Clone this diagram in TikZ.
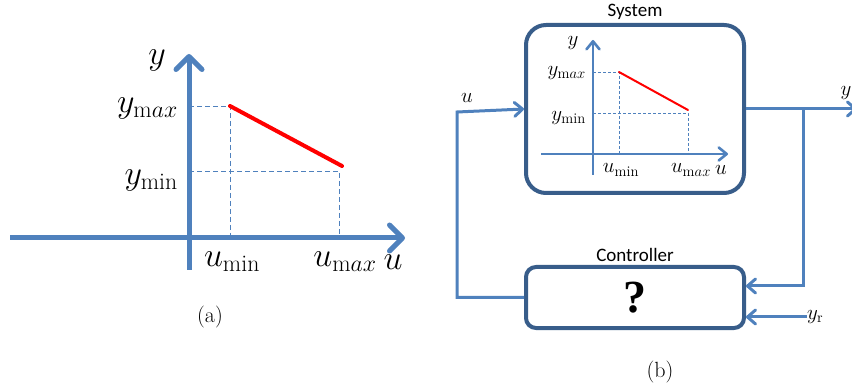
\documentclass[tikz,border=0pt]{standalone}
\usepackage{fix-cm}
\usepackage{fontspec}
\newfontfamily\calibfont{Carlito}
\newfontfamily\timesfont{Liberation Serif}
\usepackage{xcolor}
\usetikzlibrary{arrows.meta,positioning}
\definecolor{axisblue}{HTML}{4F81BD}
\definecolor{boxblue}{HTML}{385D8A}
\tikzset{
  bigaxis/.style={draw=axisblue, line width=5pt, -{Straight Barb[length=13pt,width=26pt,round]}},
  smallaxis/.style={draw=axisblue, line width=2.6pt, -{Straight Barb[length=8pt,width=13pt,round]}},
  conn/.style={draw=axisblue, line width=3pt},
  connarrow/.style={conn, -{Straight Barb[length=8pt,width=14pt,round]}},
  guide/.style={draw=axisblue, line width=0.8pt, dash pattern=on 5pt off 3pt},
  curve/.style={draw=red, line cap=round},
  blockbox/.style={draw=boxblue, line width=4pt, fill=white, minimum width=218pt},
  bigmath/.style={font=\fontsize{34}{40}\selectfont, inner sep=0pt},
  smallmath/.style={font=\fontsize{21}{24}\selectfont, inner sep=0pt},
  blocklbl/.style={font=\calibfont\fontsize{19}{23}\selectfont},
  caplbl/.style={font=\fontsize{22}{26}\selectfont}
}
\begin{document}
\begin{tikzpicture}[x=1pt,y=-1pt]
    \useasboundingbox (0,0) rectangle (852,390);

    % (a) static map
    \draw[guide] (189,106) -| (230,238);
    \draw[guide] (189,171) -| (339,238);
    \draw[bigaxis] (10,238) -- (405,238); % u axis
    \draw[bigaxis] (189,270) -- (189,54); % y axis
    \draw[curve, line width=4pt] (230,106) -- (342,166);
    \node[bigmath] (ya) at (157,60) {$y$};
    \node[bigmath, anchor=east] (ymaxa) at (178,108) {$y_{\mathrm{m}ax}$};
    \node[bigmath, anchor=east] (ymina) at (178,180) {$y_{\mathrm{min}}$};
    \node[bigmath] (umina) at (232,262) {$u_{\mathrm{min}}$};
    \node[bigmath] (umaxa) at (345,262) {$u_{\mathrm{m}ax}$};
    \node[bigmath] (ua) at (393,262) {$u$};
    \node[caplbl] (capa) at (210,317) {(a)};

    % (b) loop
    \node[blockbox, minimum height=168pt, rounded corners=20pt] (sys) at (635,109) {};
    \node[blocklbl, above=0pt of sys] (syslbl) {System};
    \draw[guide, line width=0.6pt, dash pattern=on 3pt off 2pt] (593,72) -| (619,154);
    \draw[guide, line width=0.6pt, dash pattern=on 3pt off 2pt] (593,113) -| (688,154);
    \draw[smallaxis] (541,154) -- (728,154);
    \draw[smallaxis] (593,175) -- (593,40);
    \draw[curve, line width=2pt] (619,72) -- (688,110);
    \node[smallmath] (yb) at (573,43) {$y$};
    \node[smallmath, anchor=east] (ymaxb) at (586,73) {$y_{\mathrm{m}ax}$};
    \node[smallmath, anchor=east] (yminb) at (586,118) {$y_{\mathrm{min}}$};
    \node[smallmath] (uminb) at (621,170) {$u_{\mathrm{min}}$};
    \node[smallmath] (umaxb) at (691,170) {$u_{\mathrm{m}ax}$};
    \node[smallmath] (ub) at (721,170) {$u$};

    \node[blockbox, minimum height=61pt, rounded corners=10pt,
          font=\timesfont\bfseries\fontsize{46}{50}\selectfont] (ctrl) at (635,297.5) {?};
    \node[blocklbl, above=0pt of ctrl] (ctrllbl) {Controller};

    \coordinate (uin) at (457,112);
    \coordinate (yout) at (857,109);
    \coordinate (fb) at (803,286);
    \draw[connarrow] (ctrl.west) -| (uin) -- (sys.west);
    \draw[connarrow] (sys.east) -- (yout);
    \draw[connarrow] (sys.east -| fb) -- (fb) -- (fb -| ctrl.east);
    \node[smallmath, anchor=west] (yr) at (807,317) {$y_{\mathrm{r}}$};
    \draw[connarrow] (yr.west) -- (yr.west -| ctrl.east);
    \node[smallmath] (ulbl) at (467,98) {$u$};
    \node[smallmath] (ylbl) at (846,93) {$y$};
    \node[caplbl] (capb) at (660,372) {(b)};
\end{tikzpicture}
\end{document}
